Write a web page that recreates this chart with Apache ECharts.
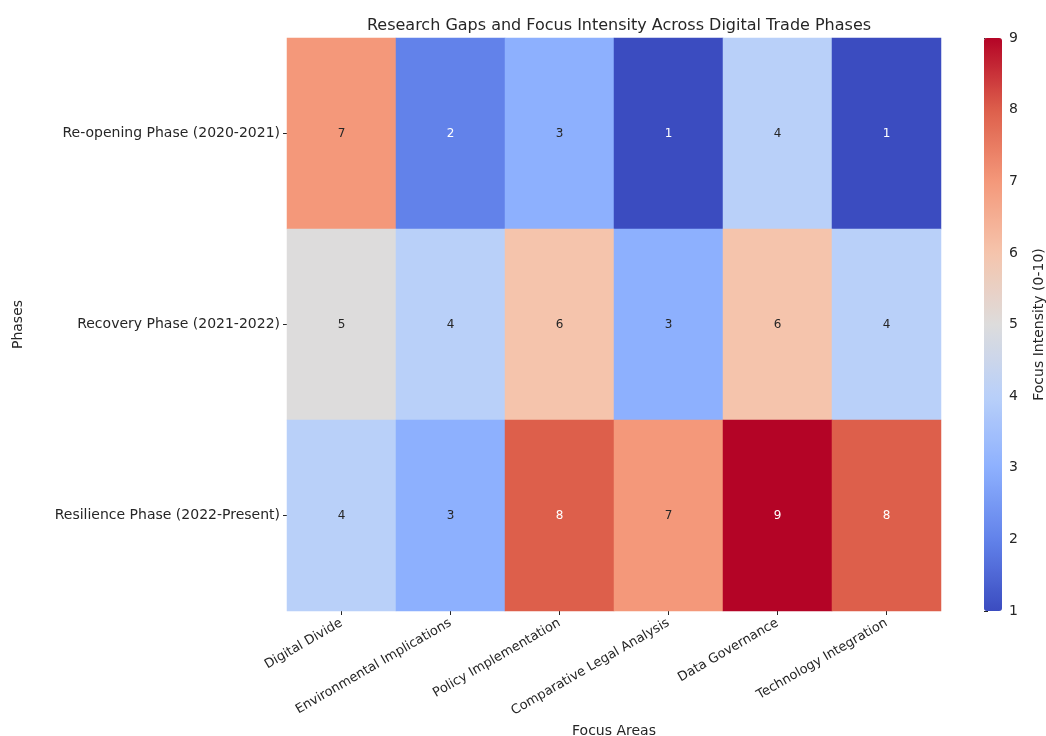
<!DOCTYPE html>
<html><head><meta charset="utf-8">
<script src="https://cdn.jsdelivr.net/npm/echarts@6/dist/echarts.min.js"></script>
<style>html,body{margin:0;padding:0;background:#fff}#c{width:1046px;height:736px}</style>
</head><body><div id="c"></div>
<script>
const focusAreas = ["Digital Divide","Environmental Implications","Policy Implementation","Comparative Legal Analysis","Data Governance","Technology Integration"];
const phases = ["Re-opening Phase (2020-2021)","Recovery Phase (2021-2022)","Resilience Phase (2022-Present)"];
const reopening = [7,2,3,1,4,1];
const recovery = [5,4,6,3,6,4];
const resilience = [4,3,8,7,9,8];
const colorbarTicks = [1,2,3,4,5,6,7,8,9];
const coolwarm = ["#3b4cc0","#6282ea","#8db0fe","#b9d0f9","#dddcdc","#f5c4ac","#f4987a","#dd5f4b","#b40426"];

const rows = [reopening, recovery, resilience];
const data = [];
rows.forEach((r, yi) => r.forEach((v, xi) => data.push({value: [xi, yi, v],
  label: {color: (v <= 2 || v >= 8) ? '#ffffff' : '#262626'}})));

const txt = '#262626';
const font = 'DejaVu Sans';
const chart = echarts.init(document.getElementById('c'));
chart.setOption({
  backgroundColor: '#fff',
  animation: false,
  textStyle: {fontFamily: font},
  title: {text: 'Research Gaps and Focus Intensity Across Digital Trade Phases', left: 614, textAlign: 'center', top: 13,
    textStyle: {fontSize: 16, fontWeight: 'normal', color: txt, fontFamily: font}},
  grid: [
    {left: 287, right: 105, top: 38, bottom: 125, containLabel: false, outerBoundsMode: 'none'},
    {left: 984, width: 18, top: 38, height: 573, containLabel: false, outerBoundsMode: 'none'}
  ],
  xAxis: [
    {type: 'category', data: focusAreas, gridIndex: 0,
     axisLine: {show: false}, axisTick: {show: true, alignWithLabel: true, length: 4, lineStyle: {color: txt}},
     axisLabel: {rotate: 30, fontSize: 13, color: txt, margin: 11},
     name: 'Focus Areas', nameLocation: 'middle', nameGap: 111, nameTextStyle: {fontSize: 14, color: txt},
     splitArea: {show: false}},
    {type: 'value', gridIndex: 1, show: false, min: 0, max: 1}
  ],
  yAxis: [
    {type: 'category', data: phases, inverse: true, gridIndex: 0,
     axisLine: {show: false}, axisTick: {show: true, alignWithLabel: true, length: 4, lineStyle: {color: txt}},
     axisLabel: {fontSize: 14, color: txt, margin: 7},
     name: 'Phases', nameLocation: 'middle', nameGap: 262, nameRotate: 90, nameTextStyle: {fontSize: 14, color: txt}},
    {type: 'value', gridIndex: 1, position: 'right', min: 1, max: 9, interval: 1,
     axisLine: {show: false}, splitLine: {show: false},
     axisTick: {show: true, length: 4, lineStyle: {color: txt}},
     axisLabel: {fontSize: 14, color: txt, margin: 7, formatter: v => colorbarTicks.includes(v) ? String(v) : ''},
     name: 'Focus Intensity (0-10)', nameLocation: 'middle', nameGap: 30, nameRotate: 90,
     nameTextStyle: {fontSize: 14, color: txt}}
  ],
  visualMap: {
    type: 'continuous', min: 1, max: 9, seriesIndex: 0, calculable: false,
    orient: 'vertical', left: 984, top: 38, itemWidth: 18, itemHeight: 573, padding: 0,
    text: null, showLabel: false, hoverLink: false, indicatorSize: 0, handleSize: 0,
    inRange: {color: coolwarm}
  },
  series: [
    {type: 'heatmap', xAxisIndex: 0, yAxisIndex: 0, data: data,
     label: {show: true, fontSize: 12, fontFamily: font,
       formatter: p => String(p.value[2])},
     itemStyle: {borderWidth: 0},
     emphasis: {disabled: true}},
    {type: 'line', xAxisIndex: 1, yAxisIndex: 1, data: [], silent: true}
  ]
});
</script></body></html>
